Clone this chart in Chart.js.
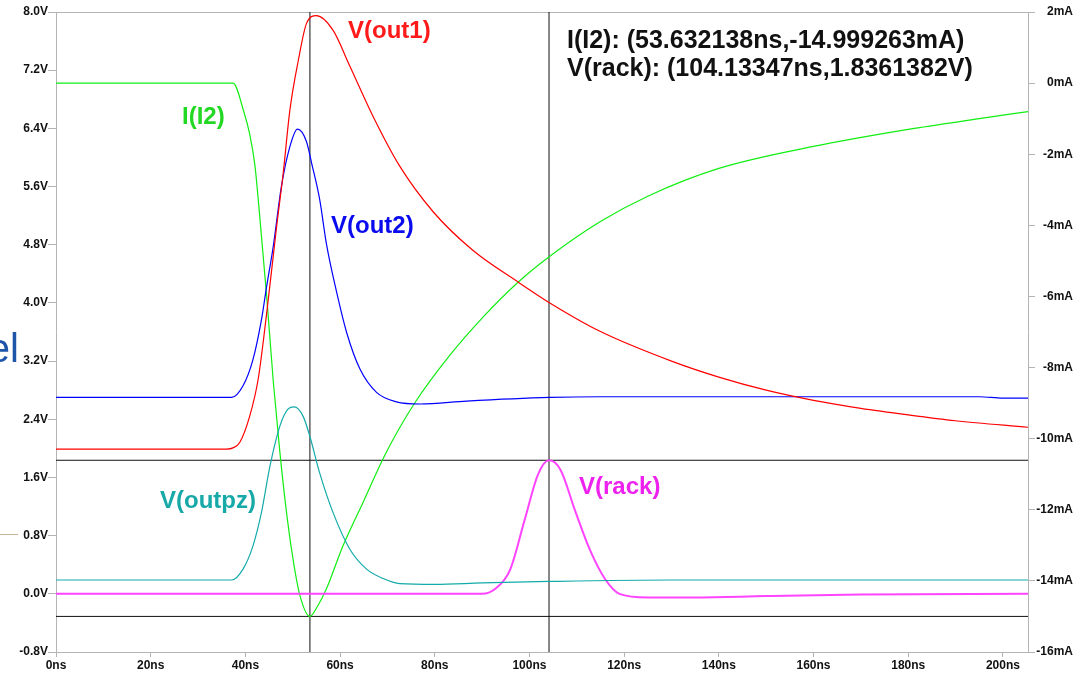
<!DOCTYPE html>
<html>
<head>
<meta charset="utf-8">
<script src="https://cdn.jsdelivr.net/npm/chart.js@4.4.1/dist/chart.umd.min.js"></script>
<style>
  html, body { margin: 0; padding: 0; background: #fff; }
  canvas { display: block; }
</style>
</head>
<body>
<canvas id="lineChart" width="1089" height="675"></canvas>
<script>
// tick labels
const timeTicks = [0, 20, 40, 60, 80, 100, 120, 140, 160, 180, 200];
const voltTicks = [-0.8, 0.0, 0.8, 1.6, 2.4, 3.2, 4.0, 4.8, 5.6, 6.4, 7.2, 8.0];
const currentTicks = [-16, -14, -12, -10, -8, -6, -4, -2, 0, 2];

// V(out1), volts
const tOut1 = [0, 36, 37.5, 38.8, 40.9, 42.7, 44.5, 46.6, 48.0, 49.4, 51.2, 52.9, 55.0, 58.5, 62.1, 67.0, 72.6, 79.7, 88.1, 97.3, 104.3, 114.9, 130, 140, 150, 160, 170, 180, 190, 205.3];
const vOut1 = [1.99, 1.99, 2.01, 2.08, 2.44, 2.95, 3.86, 5.05, 5.79, 6.65, 7.34, 7.84, 7.95, 7.75, 7.25, 6.56, 5.88, 5.25, 4.72, 4.30, 4.00, 3.61, 3.20, 2.98, 2.80, 2.66, 2.55, 2.46, 2.38, 2.29];

// V(out2), volts
const tOut2 = [0, 37.1, 39.5, 41.6, 43.4, 44.5, 45.9, 47.6, 49.4, 51.0, 52.9, 54.0, 55.7, 57.1, 59.3, 61.4, 64.2, 67.7, 71.9, 76.9, 86.7, 104.3, 114.9, 140, 170, 195, 200, 205.3];
const vOut2 = [2.70, 2.70, 2.86, 3.22, 3.77, 4.23, 4.78, 5.60, 6.15, 6.39, 6.22, 5.92, 5.42, 4.82, 4.14, 3.59, 3.09, 2.77, 2.64, 2.61, 2.65, 2.70, 2.71, 2.71, 2.71, 2.71, 2.69, 2.69];

// V(outpz), volts
const tOutpz = [0, 37.1, 39.5, 41.6, 43.4, 45.2, 47.3, 49.0, 50.3, 52.2, 53.6, 55.7, 58.5, 62.1, 65.6, 69.1, 72.6, 80, 90, 104, 130, 160, 205.3];
const vOutpz = [0.19, 0.19, 0.34, 0.66, 1.12, 1.76, 2.31, 2.54, 2.57, 2.44, 2.17, 1.66, 1.12, 0.61, 0.34, 0.21, 0.14, 0.13, 0.15, 0.17, 0.19, 0.19, 0.19];

// V(rack), volts
const tRack = [0, 90, 93, 95.9, 99, 101.8, 104.13, 106.6, 109.6, 112.8, 116, 119, 125, 135, 150, 170, 205.3];
const vRack = [0.0, 0.0, 0.08, 0.33, 1.02, 1.64, 1.836, 1.70, 1.15, 0.60, 0.20, 0.0, -0.05, -0.05, -0.03, -0.01, 0.0];

// I(I2), milliamps
const tI2 = [0, 37.4, 39.6, 40.9, 42.0, 43.0, 44.5, 45.9, 47.3, 48.8, 50.2, 51.5, 53.63, 55.3, 57.1, 60.6, 65, 69.5, 75.8, 83.2, 90.2, 97.6, 104.3, 114.9, 125, 140, 160, 180, 195, 205.3];
const iI2 = [0, 0, -0.77, -1.43, -2.3, -3.7, -6.0, -8.4, -10.4, -12.2, -13.5, -14.4, -15.0, -14.7, -14.23, -13.02, -11.75, -10.45, -8.99, -7.65, -6.58, -5.60, -4.87, -3.90, -3.18, -2.40, -1.78, -1.30, -1.00, -0.80];

// cursors
const cursorTimes = [53.632138, 104.13347];
const cursorI2 = -14.999263;
const cursorRack = 1.8361382;
const timeMax = 205.3;

let jFPairs = ({ inX, inY }) => inX.map((x, i) => ({ x: x, y: inY[i] }));

let jFTrace = ({ inLabel, inX, inY, inColor, inWidth, inAxis }) => ({
    label: inLabel,
    data: jFPairs({ inX, inY }),
    borderColor: inColor,
    borderWidth: inWidth,
    showLine: true,
    pointRadius: 0,
    cubicInterpolationMode: 'monotone',
    yAxisID: inAxis
});

let jFCursor = ({ inPoints, inAxis }) => ({
    data: inPoints,
    borderColor: '#111',
    borderWidth: 1,
    showLine: true,
    pointRadius: 0,
    yAxisID: inAxis
});

const labelPlugin = {
    id: 'traceLabels',
    afterDraw(chart) {
        const ctx = chart.ctx;
        ctx.save();
        ctx.textAlign = 'left';
        ctx.textBaseline = 'alphabetic';
        ctx.font = 'bold 24px "Liberation Sans", Arial, sans-serif';
        [
            ['V(out1)', 348, 38, '#ff1a1a'],
            ['I(I2)', 182, 124, '#22d822'],
            ['V(out2)', 331, 233, '#0a0aee'],
            ['V(outpz)', 160, 508, '#17a8a8'],
            ['V(rack)', 579, 494, '#ee22ee']
        ].forEach(([t, x, y, c]) => { ctx.fillStyle = c; ctx.fillText(t, x, y); });

        ctx.fillStyle = '#111';
        ctx.font = 'bold 25px "Liberation Sans", Arial, sans-serif';
        ctx.fillText('I(I2): (53.632138ns,-14.999263mA)', 567, 48);
        ctx.fillText('V(rack): (104.13347ns,1.8361382V)', 567, 76);

        // bits of the slide behind the plot window
        ctx.fillStyle = '#1f55a8';
        ctx.font = '40px "Liberation Sans", Arial, sans-serif';
        ctx.textAlign = 'right';
        ctx.fillText('el', 19, 362);
        ctx.strokeStyle = '#c8b49a';
        ctx.lineWidth = 1;
        ctx.beginPath();
        ctx.moveTo(0, 534.5);
        ctx.lineTo(18, 534.5);
        ctx.stroke();
        ctx.restore();
    }
};

const StartFunc = () => {
    const ctx = document.getElementById('lineChart');
    const tickFont = { family: '"Liberation Sans", Arial, sans-serif', size: 12, weight: 'bold' };
    const axisGray = '#b4b4b4';

    new Chart(ctx, {
        type: 'scatter',
        data: {
            datasets: [
                jFTrace({ inLabel: 'V(out1)', inX: tOut1, inY: vOut1, inColor: '#ff0000', inWidth: 1.2, inAxis: 'y' }),
                jFTrace({ inLabel: 'V(out2)', inX: tOut2, inY: vOut2, inColor: '#0000ff', inWidth: 1.2, inAxis: 'y' }),
                jFTrace({ inLabel: 'V(outpz)', inX: tOutpz, inY: vOutpz, inColor: '#14aaaa', inWidth: 1.2, inAxis: 'y' }),
                jFTrace({ inLabel: 'V(rack)', inX: tRack, inY: vRack, inColor: '#ff44ff', inWidth: 2, inAxis: 'y' }),
                jFTrace({ inLabel: 'I(I2)', inX: tI2, inY: iI2, inColor: '#11ee11', inWidth: 1.2, inAxis: 'y2' }),
                jFCursor({ inPoints: [{ x: cursorTimes[0], y: voltTicks[0] }, { x: cursorTimes[0], y: voltTicks[voltTicks.length - 1] }], inAxis: 'y' }),
                jFCursor({ inPoints: [{ x: cursorTimes[1], y: voltTicks[0] }, { x: cursorTimes[1], y: voltTicks[voltTicks.length - 1] }], inAxis: 'y' }),
                jFCursor({ inPoints: [{ x: 0, y: cursorRack }, { x: timeMax, y: cursorRack }], inAxis: 'y' }),
                jFCursor({ inPoints: [{ x: 0, y: cursorI2 }, { x: timeMax, y: cursorI2 }], inAxis: 'y2' })
            ]
        },
        options: {
            responsive: false,
            animation: false,
            layout: { padding: { top: 12, right: 16, bottom: 0, left: 0 } },
            plugins: { legend: { display: false }, tooltip: { enabled: false } },
            scales: {
                x: {
                    type: 'linear', position: 'bottom', min: 0, max: timeMax,
                    afterBuildTicks: s => { s.ticks = timeTicks.map(v => ({ value: v })); },
                    afterFit: s => { s.height = 23; },
                    grid: { drawOnChartArea: false, drawTicks: true, tickLength: 5, color: axisGray },
                    border: { display: true, color: axisGray },
                    ticks: { font: tickFont, color: '#111', padding: 1, maxRotation: 0, callback: v => v + 'ns' }
                },
                x2: {
                    type: 'linear', position: 'top', min: 0, max: timeMax,
                    afterFit: s => { s.height = 0; },
                    grid: { display: false },
                    border: { display: true, color: axisGray },
                    ticks: { display: false }
                },
                y: {
                    type: 'linear', position: 'left', min: -0.8, max: 8.0,
                    afterBuildTicks: s => { s.ticks = voltTicks.map(v => ({ value: v })); },
                    afterFit: s => { s.width = 56; },
                    grid: { drawOnChartArea: false, drawTicks: true, tickLength: 8, color: axisGray },
                    border: { display: true, color: axisGray },
                    ticks: { font: tickFont, color: '#111', padding: 0, callback: v => v.toFixed(1) + 'V' }
                },
                y2: {
                    type: 'linear', position: 'right', min: -16, max: 2,
                    afterBuildTicks: s => { s.ticks = currentTicks.map(v => ({ value: v })); },
                    afterFit: s => { s.width = 45; },
                    grid: { drawOnChartArea: false, drawTicks: true, tickLength: 7, color: axisGray },
                    border: { display: true, color: axisGray },
                    ticks: { font: tickFont, color: '#111', padding: 0, crossAlign: 'far', callback: v => v + 'mA' }
                }
            }
        },
        plugins: [labelPlugin]
    });
};

StartFunc();
</script>
</body>
</html>
